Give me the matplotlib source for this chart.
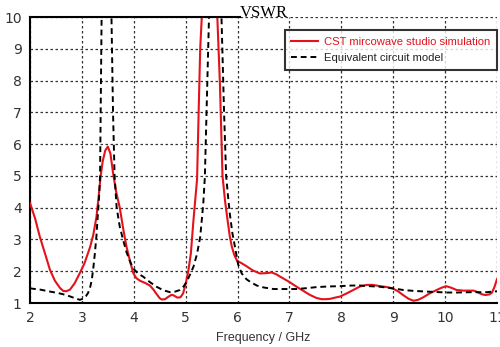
import matplotlib
matplotlib.use("Agg")
import matplotlib.pyplot as plt
from matplotlib.lines import Line2D

# CST microwave studio simulation (red)
cst_freq = [2.00, 2.10, 2.19, 2.30, 2.385, 2.48, 2.58, 2.64, 2.70, 2.77, 2.86, 2.96,
            3.05, 3.16, 3.22, 3.28, 3.32, 3.36, 3.40, 3.45, 3.50, 3.55, 3.60, 3.66,
            3.73, 3.80, 3.86, 3.93, 3.99, 4.05, 4.12, 4.22, 4.31, 4.38, 4.44, 4.50,
            4.54, 4.60, 4.67, 4.73, 4.78, 4.84, 4.90, 4.95, 5.00, 5.05, 5.10, 5.15,
            5.22, 5.25, 5.28, 5.32, 5.40, 5.50, 5.58, 5.61, 5.66, 5.71, 5.76, 5.80,
            5.85, 5.89, 5.94, 5.99, 6.08, 6.17, 6.30, 6.43, 6.55, 6.66, 6.75, 6.82,
            6.98, 7.14, 7.27, 7.40, 7.52, 7.62, 7.70, 7.78, 7.88, 7.97, 8.10, 8.23,
            8.36, 8.49, 8.60, 8.75, 8.88, 9.00, 9.10, 9.19, 9.30, 9.39, 9.48, 9.58,
            9.70, 9.84, 9.93, 10.02, 10.12, 10.22, 10.35, 10.48, 10.55, 10.60, 10.70,
            10.77, 10.85, 10.90, 10.95, 11.00]
cst_vswr = [4.15, 3.65, 3.08, 2.50, 2.04, 1.70, 1.47, 1.38, 1.37, 1.42, 1.62, 1.94,
            2.25, 2.77, 3.15, 3.70, 4.30, 4.97, 5.45, 5.80, 5.92, 5.70, 5.10, 4.50,
            4.00, 3.30, 2.77, 2.30, 1.94, 1.78, 1.70, 1.63, 1.55, 1.42, 1.28, 1.15,
            1.11, 1.12, 1.20, 1.26, 1.23, 1.17, 1.18, 1.30, 1.60, 2.00, 2.56, 3.60,
            4.90, 7.00, 9.00, 10.3, 14.0, 16.0, 12.0, 10.0, 7.90, 5.00, 4.20, 3.70,
            3.10, 2.77, 2.50, 2.33, 2.25, 2.16, 2.02, 1.93, 1.94, 1.96, 1.90, 1.83,
            1.68, 1.51, 1.38, 1.25, 1.16, 1.12, 1.12, 1.13, 1.17, 1.20, 1.30, 1.41,
            1.52, 1.57, 1.57, 1.53, 1.50, 1.45, 1.36, 1.25, 1.13, 1.07, 1.10, 1.18,
            1.30, 1.41, 1.48, 1.53, 1.48, 1.41, 1.39, 1.39, 1.39, 1.36, 1.28,
            1.25, 1.27, 1.32, 1.50, 1.75]

# Equivalent circuit model (black dashed)
eq_freq = [2.00, 2.20, 2.385, 2.55, 2.70, 2.85, 2.96, 3.03, 3.08, 3.12, 3.16, 3.19,
           3.22, 3.25, 3.28, 3.30, 3.33, 3.35, 3.38, 3.42, 3.47, 3.52, 3.57, 3.60,
           3.63, 3.67, 3.73, 3.80, 3.86, 3.93, 3.99, 4.08, 4.18, 4.30, 4.44, 4.57,
           4.70, 4.80, 4.89, 4.96, 5.02, 5.08, 5.15, 5.22, 5.28, 5.31, 5.34, 5.37,
           5.41, 5.45, 5.50, 5.57, 5.63, 5.69, 5.74, 5.78, 5.82, 5.85, 5.90, 5.95,
           6.01, 6.08, 6.17, 6.24, 6.37, 6.50, 6.69, 6.90, 7.14, 7.35, 7.52, 7.75,
           7.97, 8.20, 8.36, 8.55, 8.75, 9.00, 9.19, 9.40, 9.64, 10.03, 10.25, 10.48,
           10.80, 10.93, 11.00]
eq_vswr = [1.46, 1.42, 1.36, 1.31, 1.25, 1.16, 1.10, 1.14, 1.22, 1.32, 1.50, 1.72,
           2.10, 2.56, 3.10, 3.60, 4.30, 5.00, 10.0, 15.0, 20.0, 15.0, 10.0, 7.00,
           5.00, 4.00, 3.40, 2.95, 2.60, 2.30, 2.09, 1.93, 1.83, 1.67, 1.51, 1.40,
           1.34, 1.36, 1.41, 1.52, 1.67, 1.88, 2.14, 2.55, 3.08, 3.60, 4.14, 4.97,
           7.50, 10.0, 15.0, 20.0, 15.0, 10.0, 7.00, 5.00, 4.30, 3.82, 3.20, 2.77,
           2.22, 1.93, 1.75, 1.67, 1.55, 1.49, 1.44, 1.44, 1.44, 1.47, 1.50, 1.52,
           1.53, 1.55, 1.55, 1.53, 1.51, 1.46, 1.41, 1.38, 1.36, 1.33, 1.33, 1.34,
           1.34, 1.36, 1.37]

x_ticks = [2, 3, 4, 5, 6, 7, 8, 9, 10, 11]
y_ticks = [1, 2, 3, 4, 5, 6, 7, 8, 9, 10]
title = "VSWR"
x_label = "Frequency / GHz"
label_cst = "CST mircowave studio simulation"
label_eq = "Equivalent circuit model"

fig = plt.figure(figsize=(5.0, 3.47), dpi=100)
ax = fig.add_axes([0.06, 0.1268, 0.934, 0.8242])

ax.plot(cst_freq, cst_vswr, color="#e3121b", lw=1.5, zorder=3)
ax.plot(eq_freq, eq_vswr, color="black", lw=1.4, ls=(0, (3, 2)), zorder=4)

ax.set_xlim(2, 11)
ax.set_ylim(1, 10)
ax.set_xticks(x_ticks)
ax.set_yticks(y_ticks)
ax.tick_params(length=0, labelsize=10, labelcolor="#333333", pad=6)
ax.grid(True, color="#333333", ls=(0, (2, 2)), lw=0.9)
ax.set_axisbelow(True)

for s in ["top", "right"]:
    ax.spines[s].set_visible(False)
for s in ["left", "bottom"]:
    ax.spines[s].set_linewidth(1.5)
    ax.spines[s].set_color("black")
ax.axhline(10, xmin=0, xmax=0.45, color="black", lw=1.5, clip_on=False, zorder=5)

ax.set_title(title, fontsize=12, family="Liberation Serif", pad=0, y=1.0)
ax.set_xlabel(x_label, fontsize=9, family="Liberation Sans", color="#333333",
              labelpad=5)

handles = [Line2D([], [], color="#e3121b", lw=1.5),
           Line2D([], [], color="black", lw=1.4, ls=(0, (3, 2)))]
leg = ax.legend(handles, [label_cst, label_eq], loc="upper right",
                bbox_to_anchor=(1.0, 0.955), prop={"family": "Liberation Sans", "size": 8.1},
                frameon=True, fancybox=False, handlelength=2.4, borderpad=0.6,
                labelspacing=0.6, handletextpad=0.5, borderaxespad=0.0)
leg.get_frame().set_edgecolor("black")
leg.get_frame().set_linewidth(1.5)
leg.get_texts()[0].set_color("#e3121b")
leg.get_texts()[1].set_color("#222222")

fig.savefig("out.png", dpi=100)
